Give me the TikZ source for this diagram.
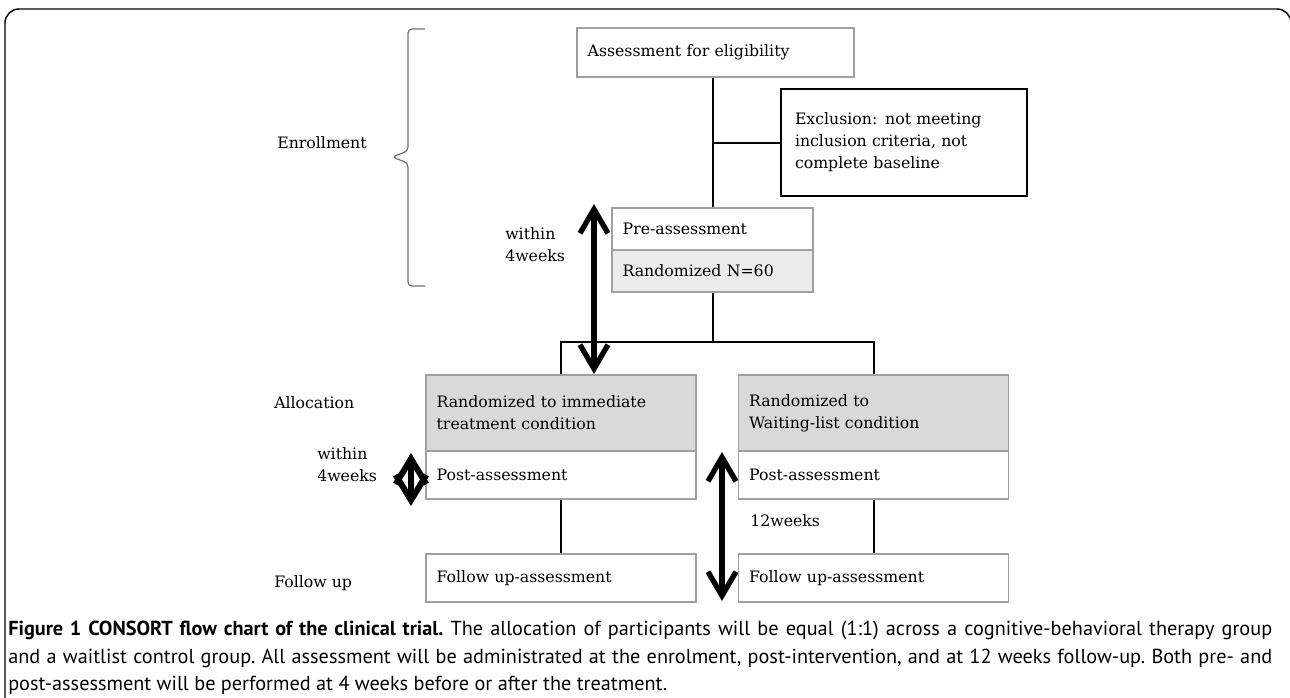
\documentclass[tikz,border=0pt]{standalone}
\usepackage{fontspec}
\setmainfont{DejaVu Serif}
\newfontfamily\capfont{PT Sans}
\usepackage{tikz}
\usetikzlibrary{calc, positioning, arrows.meta}
\usepackage{xcolor}
\definecolor{framegray}{HTML}{A0A0A0}
\definecolor{headgray}{HTML}{D9D9D9}
\definecolor{dotgray}{HTML}{ECECEC}
\definecolor{bracegray}{HTML}{707070}

\begin{document}
\begin{tikzpicture}[x=0.75pt, y=-0.75pt,
    font=\fontsize{11.8}{16.5}\selectfont,
    stage/.style={draw=framegray, line width=0.9pt, align=left, inner xsep=8pt, inner ysep=0pt},
    sidetext/.style={anchor=west, align=left, inner sep=0pt},
    link/.style={line width=1.5pt},
    weekarrow/.style={line width=4pt, {Straight Barb[length=18pt, width=21pt]}-{Straight Barb[length=18pt, width=21pt]}}]
    \clip (0,0) rectangle (1290,697);
    \draw[line width=1.1pt, rounded corners=10.5pt] (5,720) -- (5,9) -- (1291,9) -- (1291,720);

    % boxes of the flow
    \node[stage, minimum height=36.75pt, text width=191.75pt] (elig) at (715.5,52.5) {Assessment for eligibility};
    \node[stage, draw=black, line width=1.5pt, inner xsep=10.5pt, minimum height=80.25pt, text width=163.5pt] (excl) at (904,142.5) {Exclusion: not meeting\\inclusion criteria, not\\complete baseline};
    \node[stage, minimum height=31.5pt, text width=134.75pt] (pre) at (712.5,229) {Pre-assessment};
    \node[stage, fill=dotgray, minimum height=31.5pt, text width=134.75pt] (rand) at (712.5,271) {Randomized N=60};

    \node[stage, fill=headgray, minimum height=57pt, text width=186.5pt] (immed) at (561,413) {Randomized to immediate\\treatment condition};
    \node[stage, minimum height=36pt, text width=186.5pt] (postA) at (561,475) {Post-assessment};
    \node[stage, minimum height=36pt, text width=186.5pt] (followA) at (561,578) {Follow up-assessment};
    \node[stage, fill=headgray, minimum height=57pt, text width=186.5pt] (wait) at (873.5,413) {Randomized to\\Waiting-list condition};
    \node[stage, minimum height=36pt, text width=186.5pt] (postB) at (873.5,475) {Post-assessment};
    \node[stage, minimum height=36pt, text width=186.5pt] (followB) at (873.5,578) {Follow up-assessment};

    % stage labels
    \node[sidetext, anchor=center] (enrol) at (322,143) {Enrollment};
    \node[sidetext] (withinA) at (505,244.5) {within\\4weeks};
    \node[sidetext] (alloc) at (274,403) {Allocation};
    \node[sidetext] (withinB) at (317,465) {within\\4weeks};
    \node[sidetext] (follow) at (274,583) {Follow up};
    \node[sidetext] (twelve) at (750,521) {12weeks};

    \draw[bracegray, line width=0.9pt, rounded corners=3pt] (425,29) -- (408,29) -- (408,151) -- (392,157) -- (408,163) -- (408,286) -- (425,286);

    % connectors
    \coordinate (split) at (712.5,342);
    \draw[link] (pre.north |- elig.south) -- (pre.north);
    \draw[link] (pre.north |- excl.west) -- (excl.west);
    \draw[link] (rand.south) -- (split);
    \draw[link] (immed.north) |- (split) -| (wait.north);
    \draw[link] (postA.south) -- (followA.north);
    \draw[link] (postB.south) -- (followB.north);

    % time spans
    \coordinate (preTop) at (594,204);
    \coordinate (preEnd) at (594,374);
    \coordinate (postTop) at (722,452);
    \coordinate (followEnd) at (722,601);
    \coordinate (diaTop) at (411,453);
    \coordinate (diaEnd) at (411,506);
    \draw[weekarrow] (preTop) -- (preEnd);
    \draw[weekarrow] (postTop) -- (followEnd);
    \draw[weekarrow, line width=4.5pt, {Straight Barb[length=19pt, width=23pt]}-{Straight Barb[length=19pt, width=23pt]}] (diaTop) -- (diaEnd);

    \node[anchor=north west, text width=948pt, align=justify, inner sep=0pt, font=\capfont\fontsize{15.2}{20.6}\selectfont\frenchspacing] (caption) at (8,621)
      {\textbf{Figure 1 CONSORT flow chart of the clinical trial.} The allocation of participants will be equal (1:1) across a cognitive-behavioral therapy group\linebreak and a waitlist control group. All assessment will be administrated at the enrolment, post-intervention, and at 12 weeks follow-up. Both pre- and\linebreak post-assessment will be performed at 4 weeks before or after the treatment.};
\end{tikzpicture}
\end{document}
